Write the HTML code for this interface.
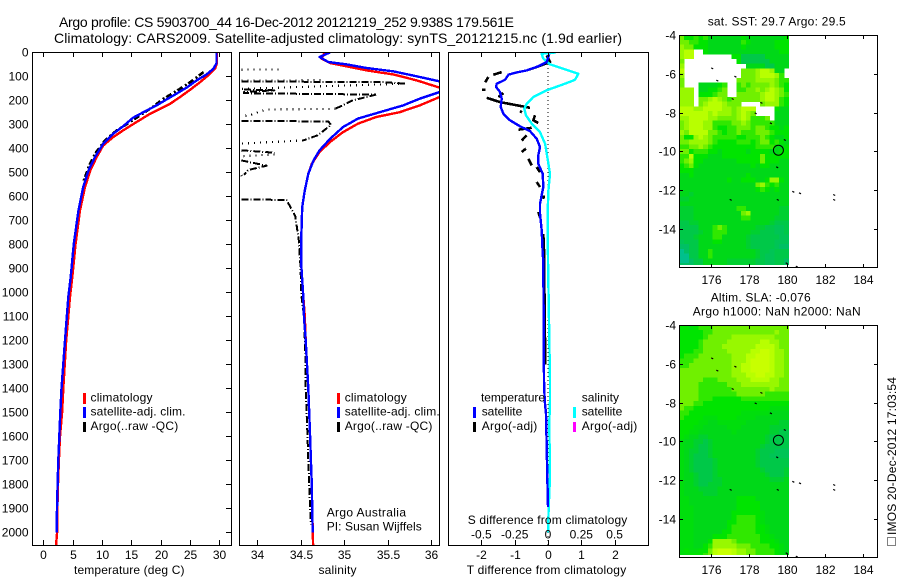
<!DOCTYPE html>
<html>
<head>
<meta charset="utf-8">
<title>Argo profile</title>
<style>
html,body{margin:0;padding:0;background:#fff;}
svg{display:block;}
text{font-family:"Liberation Sans",sans-serif;font-size:12px;fill:#000;}
.t{font-size:14px;}
</style>
</head>
<body>
<svg id="chart" xmlns="http://www.w3.org/2000/svg" width="900" height="580" viewBox="0 0 900 580">
<defs>
<clipPath id="c1"><rect x="33" y="53" width="198" height="492"/></clipPath>
<clipPath id="c2"><rect x="240" y="53" width="199" height="492"/></clipPath>
<clipPath id="c3"><rect x="449" y="53" width="199" height="492"/></clipPath>
<clipPath id="m1"><rect x="679.5" y="35" width="110" height="230"/></clipPath>
<clipPath id="m2"><rect x="679.5" y="325" width="110" height="230"/></clipPath>
</defs>
<rect width="900" height="580" fill="#fff"/>
<g id="layer"></g>
<text class="t" x="59" y="27" textLength="455" lengthAdjust="spacing">Argo profile: CS 5903700_44 16-Dec-2012 20121219_252 9.938S 179.561E</text>
<text class="t" x="54" y="43" textLength="568" lengthAdjust="spacing">Climatology: CARS2009. Satellite-adjusted climatology: synTS_20121215.nc (1.9d earlier)</text>

<text x="74" y="574" textLength="110.5" lengthAdjust="spacing">temperature (deg C)</text>
<text x="318.5" y="574" textLength="38" lengthAdjust="spacing">salinity</text>
<text x="466.7" y="574" textLength="159.5" lengthAdjust="spacing">T difference from climatology</text>
<text x="467.7" y="524" textLength="159.6" lengthAdjust="spacing">S difference from climatology</text>

<g>
<rect x="83" y="393" width="3" height="11" fill="#f00"/>
<text x="90.5" y="401.7" textLength="62" lengthAdjust="spacing">climatology</text>
<rect x="83" y="407" width="3" height="11" fill="#00f"/>
<text x="90.5" y="415.7" textLength="95" lengthAdjust="spacing">satellite-adj. clim.</text>
<rect x="83" y="422" width="3" height="10" fill="#000"/>
<text x="90.5" y="430" textLength="87.7" lengthAdjust="spacing">Argo(..raw -QC)</text>
</g>

<g>
<rect x="337" y="393" width="3" height="11" fill="#f00"/>
<text x="344.7" y="401.7" textLength="62" lengthAdjust="spacing">climatology</text>
<rect x="337" y="407" width="3" height="11" fill="#00f"/>
<text x="344.7" y="415.7" textLength="95" lengthAdjust="spacing">satellite-adj. clim.</text>
<rect x="337" y="422" width="3" height="10" fill="#000"/>
<text x="344.7" y="430" textLength="87.7" lengthAdjust="spacing">Argo(..raw -QC)</text>
</g>
<text x="326.7" y="516.7" textLength="79.3" lengthAdjust="spacing">Argo Australia</text>
<text x="326.7" y="530.7" textLength="95" lengthAdjust="spacing">PI: Susan Wijffels</text>

<g>
<text x="481" y="401.7" textLength="64" lengthAdjust="spacing">temperature</text>
<text x="581.7" y="401.7" textLength="37.3" lengthAdjust="spacing">salinity</text>
<rect x="473" y="407" width="3" height="11" fill="#00f"/>
<text x="481.7" y="415.7" textLength="40.6" lengthAdjust="spacing">satellite</text>
<rect x="473" y="422" width="3" height="10" fill="#000"/>
<text x="481.7" y="430" textLength="55.6" lengthAdjust="spacing">Argo(-adj)</text>
<rect x="573" y="407" width="3" height="11" fill="#0ff"/>
<text x="581.7" y="415.7" textLength="40.6" lengthAdjust="spacing">satellite</text>
<rect x="573" y="422" width="3" height="10" fill="#f0f"/>
<text x="581.7" y="430" textLength="55.6" lengthAdjust="spacing">Argo(-adj)</text>
</g>

<text x="707.7" y="25.7" textLength="138" lengthAdjust="spacing">sat. SST: 29.7 Argo: 29.5</text>
<text x="710.7" y="301.7" textLength="100" lengthAdjust="spacing">Altim. SLA: -0.076</text>
<text x="692.7" y="315.7" textLength="168" lengthAdjust="spacing">Argo h1000: NaN h2000: NaN</text>

<rect x="887.5" y="537.5" width="8" height="8" fill="none" stroke="#000" stroke-width="1" stroke-dasharray="1 1"/>
<text transform="translate(896,535) rotate(-90)" x="0" y="0" textLength="158" lengthAdjust="spacing">IMOS 20-Dec-2012 17:03:54</text>
</svg>

<script>
// ---------- temperature panel data ----------
const climTempDepth = [0,6,47,68,96,124,156,186,214,235,256,290,325,353,388,436,492,561,658,797,936,1019,1200,1400,1500,1600,1700,1800,1900,2000,2054];
const climTemp = [29.55,29.55,29.55,29.26,28.1,26.7,25,23.3,21.6,19.9,18.2,15.9,13.6,11.9,10.2,9.1,8,7.1,6.25,5.5,4.94,4.55,3.9,3.4,3.2,2.85,2.65,2.5,2.4,2.35,2.16];
const satTempDepth = [0,45,68,92,117,147,172,196,221,242,272,308,339,381,436,492,561,658,797,936,1019,1200,1400,1500,1600,1700,1800,1900,2000];
const satTemp = [29.5,29.5,29,27.8,26.1,24.4,22.7,21,19.3,17.6,15.3,13.6,11.9,10.2,8.8,7.7,6.8,6,5.2,4.66,4.26,3.7,3.1,2.9,2.73,2.56,2.44,2.33,2.27];
const argoTempDepth = [82,124,156,193,225,262,290,325,367,422,471,540];
const argoTemp = [27.3,25,23,20.5,18.75,16.5,14.8,12.5,10.5,8.8,7.84,6.8];

// ---------- salinity panel data ----------
const climSalDepth = [0,26,44,58,75,92,117,147,167,186,221,249,269,297,332,373,415,464,506,575,644,756,894,1006,1100,1200,1400,1500,1600,1700,1800,1900,2054];
const climSal = [34.78,34.74,34.84,35.03,35.26,35.57,35.84,36.1,36.25,36.1,35.87,35.64,35.37,35.16,34.99,34.84,34.72,34.63,34.59,34.55,34.52,34.51,34.51,34.53,34.55,34.56,34.59,34.6,34.61,34.62,34.63,34.635,34.645];
const satSalDepth = [0,19,40,50,65,79,100,121,143,165,193,221,249,276,311,360,408,450,506,575,644,756,894,1006,1100,1200,1400,1500,1600,1700,1800,1900,2000];
const satSal = [34.84,34.72,34.82,35.03,35.26,35.57,35.84,36.1,36.25,36.1,35.87,35.68,35.41,35.16,34.99,34.84,34.72,34.65,34.59,34.55,34.52,34.51,34.51,34.53,34.54,34.56,34.59,34.6,34.61,34.62,34.63,34.635,34.64];
// Argo salinity broken into runs: [salinity, depth] pairs
const argoSalDashedRuns = [
  [[33.82,121],[35.45,124],[35.7,130]],
  [[33.85,155],[34.2,158],[33.85,165],[33.85,170],[35.37,176]],
  [[35.37,176],[35.1,200],[34.9,235]],
  [[33.82,285],[34.82,288],[34.85,302],[34.7,345],[34.53,367]],
  [[33.82,408],[34.2,418]],
  [[33.82,450],[34.11,472],[33.9,490],[33.85,510]],
  [[33.82,612],[34.34,615],[34.44,683],[34.48,783],[34.5,894],[34.51,1014],[34.54,1100],[34.56,1300],[34.56,1400],[34.57,1500],[34.58,1600],[34.59,1700],[34.6,1800],[34.61,1900],[34.62,1967]]
];
const argoSalDottedRuns = [
  [[33.82,72],[34.3,71]],
  [[33.82,118],[34.78,116]],
  [[35.7,130],[33.82,152]],
  [[34.9,235],[34.1,238],[33.92,262],[33.85,265]],
  [[34.53,367],[33.82,380]],
  [[34.2,425],[33.82,433]],
  [[33.82,512],[33.85,530]]
];

// ---------- difference panel data ----------
const satDiffDepth = [8,19,40,58,75,85,93,114,131,144,165,193,228,256,283,308,328,360,394,429,464,506,561,631,672,742,839,867,1367,1450,1506,1644,1769,1894];
const satTDiff = [0.04,0.01,-0.04,-0.29,-0.64,-0.99,-1.19,-1.29,-1.54,-1.56,-1.44,-1.39,-1.42,-1.34,-1.14,-0.84,-0.54,-0.34,-0.24,-0.29,-0.29,-0.16,-0.14,-0.24,-0.24,-0.19,-0.16,-0.14,-0.12,-0.1,-0.06,-0.04,-0.02,0];
// Argo T difference, broken into runs: [difference, depth] pairs
const argoTDiffRuns = [
  [[-0.04,12],[0.06,40],[-0.34,61],[-0.64,75]],
  [[-1.39,82],[-1.64,93]],
  [[-1.79,103],[-1.89,124]],
  [[-1.98,156],[-1.88,156]],
  [[-1.34,169],[-1.49,186]],
  [[-1.84,189],[-1.44,207],[-0.54,231]],
  [[-0.84,244],[-0.78,250]],
  [[-0.39,262],[-0.44,283],[-0.29,294]],
  [[-0.89,322],[-0.49,314]],
  [[-0.64,346],[-0.79,367]],
  [[-0.66,401],[-0.79,415]],
  [[-0.59,443],[-0.49,471]],
  [[-0.34,478],[-0.24,499]],
  [[-0.34,540],[-0.24,561]],
  [[-0.14,596],[-0.12,610]],
  [[-0.29,665],[-0.24,686]],
  [[-0.14,756],[-0.12,825],[-0.1,1100],[-0.08,1300]]
];
const satSDiffDepth = [0,6,26,50,68,89,114,128,158,186,214,235,262,297,332,381,436,506,575,672,867,1367,1450,1547,1769,1894,2000];
const satSDiff = [0.06,-0.048,-0.035,0.015,0.115,0.228,0.203,0.14,-0.01,-0.11,-0.16,-0.178,-0.165,-0.122,-0.06,-0.022,-0.005,0.015,0.003,-0.003,0,0.015,0.015,0.01,0.015,0.005,0];

// ---------- tick data ----------
const depthTicks = [0,100,200,300,400,500,600,700,800,900,1000,1100,1200,1300,1400,1500,1600,1700,1800,1900,2000];
const tempTicks = [0,5,10,15,20,25,30];
const salTicks = [34,34.5,35,35.5,36];
const tDiffTicks = [-2,-1,0,1,2];
const sDiffTicks = [-0.5,-0.25,0,0.25,0.5];
const lonTicks = [176,178,180,182,184];
const latTicks = [-4,-6,-8,-10,-12,-14];

// ---------- map data (relative colour level 0..9, _ = missing) ----------
const _ = null;
const sstLevels = [
[6,4,4,5,4,5,3,3,3,3,3,3,3,4,3,3,3,3,3,3,3,3,4],
[6,6,5,5,4,4,3,3,3,3,3,3,3,5,4,3,3,3,3,3,4,4,4],
[7,6,6,4,4,4,3,3,3,3,3,3,3,4,3,3,3,3,3,3,4,4,4],
[7,8,8,_,_,4,3,3,3,3,3,3,3,3,3,3,3,3,3,3,3,4,4],
[7,8,8,_,_,_,_,_,_,_,_,4,4,2,2,2,2,2,3,3,3,3,3],
[6,_,_,_,_,_,_,_,_,_,_,_,4,2,2,2,2,2,2,3,3,3,3],
[7,_,_,_,_,_,_,_,_,_,_,_,_,_,3,3,3,3,2,2,3,3,3],
[8,_,_,_,_,_,_,_,_,_,_,_,_,6,6,6,7,8,8,7,3,3,_],
[7,_,_,_,_,_,_,_,_,_,_,_,_,6,6,6,7,8,8,8,7,5,_],
[6,_,_,_,_,_,_,_,_,_,_,_,6,6,6,6,7,7,7,7,6,5,5],
[6,_,_,_,3,3,3,3,4,5,_,_,5,6,5,6,6,6,6,7,6,5,4],
[7,7,7,_,3,3,4,4,5,6,_,_,5,5,6,6,7,6,7,8,7,6,4],
[7,7,7,_,4,4,4,5,6,6,_,_,6,6,6,6,6,7,8,8,7,6,5],
[7,7,7,_,6,6,7,8,7,6,5,6,6,6,6,6,6,7,8,8,7,5,4],
[7,7,7,_,6,7,8,8,8,7,6,6,6,_,_,_,_,6,7,7,7,5,4],
[8,8,8,7,7,8,8,8,8,7,7,6,7,8,8,8,_,_,_,_,4,3,3],
[8,8,8,8,8,8,7,8,7,7,7,6,7,8,7,6,_,_,_,_,3,3,3],
[7,7,8,8,8,8,7,7,6,6,6,6,7,8,7,5,5,5,6,_,3,3,3],
[6,7,8,8,8,7,7,5,5,5,5,6,6,7,6,5,5,5,5,5,3,3,3],
[6,7,8,8,8,7,7,5,4,4,5,5,6,6,6,5,6,6,5,4,4,3,4],
[7,6,8,8,8,8,6,6,5,4,5,5,6,5,5,5,6,6,6,5,4,4,4],
[6,4,4,7,8,7,6,5,5,5,5,5,4,4,5,5,5,6,5,4,3,3,4],
[6,6,7,7,7,7,6,5,4,4,4,4,5,5,5,4,5,6,6,4,5,4,3],
[5,5,6,6,7,6,5,4,4,4,4,4,4,4,4,4,5,5,5,5,3,3,4],
[6,6,4,5,5,5,4,4,3,4,4,4,4,4,3,4,4,4,4,3,3,4,4],
[5,5,8,4,4,4,3,3,3,4,4,4,4,4,4,4,4,6,4,4,4,4,4],
[5,6,7,4,4,3,3,3,3,3,3,3,4,4,4,4,4,6,4,4,4,3,3],
[4,5,6,4,3,3,3,3,3,3,3,3,3,3,3,4,3,4,4,3,3,3,3],
[4,4,4,3,3,3,3,3,3,3,3,3,3,3,3,3,3,3,3,3,3,3,3],
[3,3,4,3,3,3,3,3,3,3,3,3,3,3,4,3,3,3,3,3,3,3,3],
[3,3,3,3,3,3,3,3,3,3,4,3,3,4,4,4,3,3,4,7,7,4,3],
[3,3,3,3,3,3,3,3,3,3,3,3,3,3,3,3,6,7,5,4,5,3,3],
[3,3,3,3,3,3,3,3,3,3,3,3,3,3,3,3,4,5,4,3,4,3,3],
[3,3,2.5,3,3,3,3,3,3,3,3,3,3,3,3,3,3,3,3,3,3,3,3],
[2.5,2.5,3,3,3,3,3,3,3,3,3,3,3,3,3,3,3,3,3,3,3,3,3],
[3,3,3,3,3,3,3,3,3,3,3,3,3,3,3,3,3,3,3,3,3,3,3],
[2.5,2.5,2.5,3,3,3,3,3,3,3,3,3,5,5,3,3,3,3,3,3,3,2.5,2.5],
[2.5,2.5,2.5,3,3,3,3,3,3,3,3,3,3,6,7,3,3,3,3,3,3,2.5,2.5],
[2.5,2.5,2.5,3,3,3,3,3,3,3,3,3,3,5,5,3,3,3,3,3,2.5,2.5,2.5],
[2,2,2.5,2.5,3,3,3,3,3,3,3,3,3,3,3,3,3,3,3,2.5,2,2,2],
[2,2,2,2,3,3,3,5,6,5,3,3,3,3,3,3,2.5,2.5,2,2,1.5,1.5,2],
[2,2,2,2,2.5,3,3,5,5,5,3,3,3,3,3,2.5,2.5,2,2,2,1.5,1.5,2],
[2,2,2,2.5,3,3,3,5,5,3,3,3,3,3,2.5,2,2,2,2,2,2,1.5,1.5],
[1.5,2,2,2,3,3,3,4,4,3,3,3,3,3,2.5,2,2,2,2,2,1.5,1.5,1.5],
[1,1,2,2,3,3,3,3,3,3,3,3,3,3,2.5,2,2,2,2,2,1.5,1,1],
[0,1,2,2,3,3,5,3,3,3,3,3,3,3,3,3,2.5,2,2,1.5,2,2,2],
[0,0,2,2,3,3,5,3,3,3,3,3,3,3,3,3,2.5,2,1.5,1.5,2,2,2],
[0,0,1,2,2,3,3,3,3,3,2.5,2.5,2.5,2.5,2.5,2.5,2,2,1.5,1.5,2,2,1],
[1,1,1,2,2,3,3,3,3,3,2.5,2.5,2.5,2.5,2.5,2.5,2,2,1.5,1.5,2,2,1]
];
const slaLevels = [
[4,4,3.5,4,5,5,5,6,6,6,6,6,6,6,6,6,6,6,6,6,6,6,6],
[4,4,4,4,4,5,5,6,6,6,6,6,6,6,6,6,6,6,6,6,7,6,6],
[4,4,4,4,4,5,6,6,6,6,6,7,7,7,7,7,7,7,7,7,6,6,6],
[4,4,4,4,5,6,6,6,6,6,7,7,7,7,7,7,7,8,8,7,7,6,6],
[4,4,4,4,5,6,6,6,6,7,7,7,7,7,7,7,8,8,8,8,7,6,6],
[4,4,4,5,5,6,6,6,6,6,7,7,7,7,7,8,8,9,9,8,7,7,6],
[4,5,5,5,6,6,6,6,6,6,6,7,7,7,8,8,9,9,9,8,7,7,6],
[5,5,5,6,6,6,6,6,6,6,6,7,7,7,8,9,9,9,9,8,7,7,6],
[5,5,6,6,6,6,6,6,6,6,6,7,7,8,8,9,9,9,9,8,7,7,6],
[6,6,6,6,6,6,6,6,6,6,6,7,7,8,8,9,9,9,9,8,7,7,6],
[6,6,6,6,6,6,6,6,6,6,6,7,7,7,8,8,9,9,8,8,7,7,6],
[6,6,6,6,6,5,5,5,6,6,6,6,7,7,7,8,8,8,8,7,7,6,6],
[6,6,6,6,5,5,5,5,5,5,6,6,6,7,7,7,7,7,7,7,7,6,6],
[6,6,6,6,5,5,5,5,5,5,5,6,6,6,6,6,6,6,6,7,6,6,6],
[6,6,6,6,5,5,5,5,5,5,5,5,6,6,6,6,6,6,5,5,5,5,5],
[6,6,6,6,5,5,5,4,4,4,4,4,4,5,5,5,5,5,5,5,5,5,5],
[6,6,6,5,5,4,4,4,4,4,4,4,4,4,4,4,4,4,4,4,4,4,4],
[6,5,5,4,4,4,4,4,4,4,4,4,4,4,4,4,4,4,4,3.5,3.5,3.5,3.5],
[5,5,4,4,4,4,4,4,4,4,4,4,4,3.5,3.5,3.5,3.5,3.5,3.5,3,3,3,3],
[5,4,4,4,4,3.5,3.5,3.5,4,4,4,4,3.5,3.5,3.5,3.5,3,3,3,3,3,3,3],
[4,4,4,4,3.5,3.5,3,3,3.5,3.5,3.5,3.5,3.5,3.5,3,3,3,3,3,3,3,2.5,2.5],
[4,4,4,3.5,3.5,3,3,3,3,3,3.5,3.5,3.5,3,3,3,3,3,3,2.5,2.5,2.5,2.5],
[4,4,3.5,3.5,3,3,3,3,3,3,3,3.5,3,3,3,3,3,3,3,2.5,2.5,2,2],
[4,3.5,3,3,2.5,2.5,3,3,3,3,3,3,3,3,3,3,3,3,2.5,2,2,2,2],
[3.5,3,3,2.5,2.5,2,2.5,3,3,3,3,3,3,3,3,3,3,3,2.5,2,2,2,2],
[3.5,3,3,2.5,2,2,2.5,3,3,3,3,3,3,3,3,3,3,2.5,2,2,2,2,2],
[3.5,3,2.5,2.5,2,2,2.5,3,3,3,3,3,3,3,3,3,2.5,2,2,2,1.5,1.5,1.5],
[3.5,3,2.5,2,2,2,2.5,3,3,3,3,3,3,3,3,3,2.5,2,2,1.5,1.5,1.5,1.5],
[3.5,3,2.5,2,2,2,2,2.5,3,3,3,3,3,3,3,3,2.5,2,2,2,2,2,2],
[3.5,3,2.5,2,2,2,2,2.5,3,3,3,3,3,3,3,3,2.5,2,2,2,2,2,2],
[3.5,3,2.5,2,2,2,2,2.5,3,3,3,3,3,3,3,3,3,2.5,2,2,2,2,2.5],
[3.5,3,3,2.5,2,2,2,2.5,3,3,3,3,3,3,3,3,3,3,2.5,2,2,2,2.5],
[3.5,3,3,2.5,2,2,2,2.5,2.5,3,3,3,3,3,3,3,3,3,3,2.5,2.5,2.5,3],
[3.5,3,3,2.5,2,2,2.5,2.5,2.5,3,3,3,3,3,3,3,3,3,3,3,3,3,3],
[3.5,3,3,3,2.5,2.5,2.5,2.5,3,3,3,3,3,3,3,3,3,3,3,3,3,3,3],
[3.5,3,3,3,3,2.5,2.5,2.5,3,3,3,3,3,3,3,3,3,3,3,3,3,3,3],
[3.5,3.5,3,3,3,3,3,3,3,3,3,3,4,4,4,4,3,3,3,3,3,3,3],
[3.5,3.5,3,3,3,3,3,3,3,3,3,3,4,4,4,4,4,3,3,3,3,3,3],
[3.5,3.5,3.5,3,3,3,3,3,3,3,3,3,4,4,4,4,4,3,3,3,3,3,3],
[3.5,3.5,3.5,3,3,3,3,3,3,3,3,4,4,4,4,4,4,3.5,3,3,3,3,3],
[3.5,3.5,3.5,3,3,3,3,3,3,3,3,4,5,5,5,5,4,3.5,3,3,3,3,3],
[3.5,3.5,3.5,3,3,3,3,3,3,3,4,4,5,5,5,5,4,3.5,3,3,3,3,3],
[3.5,3.5,3.5,3,3,3,3,3,3,3,4,5,5,5,5,5,4,4,3.5,3,3,3,3],
[3.5,3.5,3.5,3,3,3,3,3,3,4,4,5,5,5,5,5,4,4,3.5,3,3,3,3],
[3.5,3.5,3.5,3,3,3,3,4,4,4,5,5,5,5,5,5,5,4,4,3.5,3,3,3],
[3.5,3.5,3.5,3,3,3,4,7,7,7,7,6,5,5,5,5,5,4,4,4,3.5,3,3],
[3.5,3.5,3.5,3,3,4,5,7,7,7,7,7,6,6,6,5,5,5,5,4,4,3.5,3],
[3.5,4,3.5,3.5,4,4,6,8,9,9,9,8,7,7,6,6,5,5,5,5,4,3.5,3],
[3.5,3.5,4,4,4,5,6,8,9,9,9,8,7,7,6,6,5,5,5,5,4,3.5,3]
];
const coastLon = [176.08,176.35,177.3,177.16,178.67,178.37,179.17,179.9,179.5,177.05,179.53,180.35,180.7,182.5,182.5,180,180.53];
const coastLat = [-5.72,-6.35,-6.15,-7.3,-7.5,-8.04,-8.55,-9.41,-10.82,-12.5,-12.5,-12.08,-12.16,-12.25,-12.5,-15.77,-15.94];
const profileLon = [179.561];
const profileLat = [-9.938];

// ---------- axis functions ----------
const yDepth = d => 52.4 + d * 0.24;
const xTemp = t => 43.3 + t * 5.87;
const xSal = s => 257 + (s - 34) * 87;
const xTDiff = t => 548 + t * 33.3;
const xSDiff = s => 548 + s * 133.2;
const xLon = lon => 710.7 + (lon - 176) * 19;
const yLat = (lat, top) => top + (-4 - lat) * 19.4;

const NS = 'http://www.w3.org/2000/svg';
const layer = document.getElementById('layer');

function mk(tag, parent, name) {
  const el = document.createElementNS(NS, tag);
  
  
  parent.appendChild(el);
  return el;
}
function group(name, clip) {
  const g = mk('g', layer, name);
  if (clip) g.setAttribute('clip-path', 'url(#' + clip + ')');
  return g;
}
function polyline(parent, name, pts, color, width, dash) {
  const p = mk('polyline', parent, name);
  p.setAttribute('points', pts.map(a => a[0].toFixed(1) + ',' + a[1].toFixed(1)).join(' '));
  p.setAttribute('fill', 'none');
  p.setAttribute('stroke', color);
  p.setAttribute('stroke-width', width);
  p.setAttribute('stroke-linejoin', 'round');
  p.setAttribute('shape-rendering', 'crispEdges');
  if (dash) p.setAttribute('stroke-dasharray', dash);
  return p;
}
function label(parent, name, str, x, y, anchor) {
  const t = mk('text', parent, name);
  t.setAttribute('x', x);
  t.setAttribute('y', y);
  t.setAttribute('text-anchor', anchor);
  t.textContent = str;
  return t;
}
function seg(parent, name, x1, y1, x2, y2) {
  const l = mk('line', parent, name);
  l.setAttribute('x1', x1);
  l.setAttribute('y1', y1);
  l.setAttribute('x2', x2);
  l.setAttribute('y2', y2);
  l.setAttribute('stroke', '#000');
  l.setAttribute('stroke-width', 1);
  l.setAttribute('shape-rendering', 'crispEdges');
}
function frame(name, x, y, w, h) {
  const r = mk('rect', layer, name);
  r.setAttribute('x', x);
  r.setAttribute('y', y);
  r.setAttribute('width', w);
  r.setAttribute('height', h);
  r.setAttribute('fill', 'none');
  r.setAttribute('stroke', '#000');
  r.setAttribute('stroke-width', 1);
  r.setAttribute('shape-rendering', 'crispEdges');
}
function zip(xs, ys, fx) {
  return xs.map((v, i) => [fx(v), yDepth(ys[i])]);
}
function levelColor(v) {
  const ramp = [[0,192,140],[0,191,100],[0,200,72],[0,216,24],[0,228,0],[48,232,0],[112,240,0],[152,248,0],[184,255,0],[200,255,0]];
  const t = Math.max(0, Math.min(9, v));
  const i = Math.min(8, Math.floor(t));
  const f = t - i;
  const c = ramp[i].map((a, k) => Math.round(a + (ramp[i + 1][k] - a) * f));
  return 'rgb(' + c.join(',') + ')';
}

// ---------- temperature panel ----------
const g1 = group('temperature-panel-series', 'c1');
polyline(g1, 'argo-temperature-line', zip(argoTemp, argoTempDepth, xTemp), '#000', 2.6, '6 2 2 3');
polyline(g1, 'climatology-temperature-line', zip(climTemp, climTempDepth, xTemp), '#f00', 2.4);
polyline(g1, 'satellite-temperature-line', zip(satTemp, satTempDepth, xTemp), '#00f', 2.4);
frame('temperature-panel-frame', 32.5, 52.5, 199, 493);
const g1a = group('temperature-panel-axes');
depthTicks.forEach(d => {
  const y = Math.round(yDepth(d)) + 0.5;
  seg(g1a, 'depth-tick', 226, y, 231, y);
  label(g1a, 'depth-tick-label', String(d), 28.5, y + 4, 'end');
});
tempTicks.forEach(t => {
  const x = Math.round(xTemp(t)) + 0.5;
  seg(g1a, 'temperature-tick-top', x, 53, x, 57);
  seg(g1a, 'temperature-tick-bottom', x, 540, x, 545);
  label(g1a, 'temperature-tick-label', String(t), x, 559, 'middle');
});

// ---------- salinity panel ----------
const g2 = group('salinity-panel-series', 'c2');
argoSalDottedRuns.forEach(run => {
  polyline(g2, 'argo-salinity-dotted-run', run.map(a => [xSal(a[0]), yDepth(a[1])]), '#000', 2.2, '1 5');
});
argoSalDashedRuns.forEach(run => {
  polyline(g2, 'argo-salinity-dashed-run', run.map(a => [xSal(a[0]), yDepth(a[1])]), '#000', 2, '7 2 1 2');
});
polyline(g2, 'climatology-salinity-line', zip(climSal, climSalDepth, xSal), '#f00', 2.4);
polyline(g2, 'satellite-salinity-line', zip(satSal, satSalDepth, xSal), '#00f', 2.4);
frame('salinity-panel-frame', 239.5, 52.5, 200, 493);
const g2a = group('salinity-panel-axes');
salTicks.forEach(s => {
  const x = Math.round(xSal(s)) + 0.5;
  seg(g2a, 'salinity-tick-top', x, 53, x, 57);
  seg(g2a, 'salinity-tick-bottom', x, 540, x, 545);
  label(g2a, 'salinity-tick-label', String(s), x, 559, 'middle');
});

// ---------- difference panel ----------
const g3 = group('difference-panel-series', 'c3');
polyline(g3, 'zero-difference-line', [[xTDiff(0), 52], [xTDiff(0), 545]], '#000', 1, '1 3');
argoTDiffRuns.forEach(run => {
  polyline(g3, 'argo-t-difference-run', run.map(a => [xTDiff(a[0]), yDepth(a[1])]), '#000', 2.6);
});
polyline(g3, 'satellite-s-difference-line', zip(satSDiff, satSDiffDepth, xSDiff), '#0ff', 2.4);
polyline(g3, 'satellite-t-difference-line', zip(satTDiff, satDiffDepth, xTDiff), '#00f', 2.4);
frame('difference-panel-frame', 448.5, 52.5, 200, 493);
const g3a = group('difference-panel-axes');
tDiffTicks.forEach(t => {
  const x = Math.round(xTDiff(t)) + 0.5;
  seg(g3a, 't-difference-tick-top', x, 53, x, 57);
  seg(g3a, 't-difference-tick-bottom', x, 540, x, 545);
  label(g3a, 't-difference-tick-label', String(t), x, 559, 'middle');
});
sDiffTicks.forEach(s => {
  label(g3a, 's-difference-tick-label', String(s), xSDiff(s), 538.7, 'middle');
});

// ---------- maps ----------
const gridLonStart = 174.35;
const gridLonStep = 0.25;
const gridLatStep = 0.245;
function drawMap(prefix, levels, top, clipId, labelY) {
  const cells = group(prefix + '-map-cells', clipId);
  levels.forEach((row, r) => {
    row.forEach((v, c) => {
      if (v === null) return;
      const x0 = xLon(gridLonStart + c * gridLonStep);
      const x1 = xLon(gridLonStart + (c + 1) * gridLonStep);
      const y0 = yLat(-4 - r * gridLatStep, top);
      const y1 = yLat(-4 - (r + 1) * gridLatStep, top);
      const cell = mk('rect', cells, prefix + '-cell');
      cell.setAttribute('x', x0.toFixed(2));
      cell.setAttribute('y', y0.toFixed(2));
      cell.setAttribute('width', (x1 - x0 + 0.4).toFixed(2));
      cell.setAttribute('height', (y1 - y0 + 0.4).toFixed(2));
      cell.setAttribute('fill', levelColor(v));
      cell.setAttribute('shape-rendering', 'crispEdges');
    });
  });
  const coast = group(prefix + '-coastline');
  coastLon.forEach((lon, i) => {
    const l = mk('line', coast, 'coast-mark');
    const x = xLon(lon);
    const y = yLat(coastLat[i], top);
    l.setAttribute('x1', (x - 1).toFixed(1));
    l.setAttribute('y1', (y - 0.5).toFixed(1));
    l.setAttribute('x2', (x + 1).toFixed(1));
    l.setAttribute('y2', (y + 0.5).toFixed(1));
    l.setAttribute('stroke', '#000');
    l.setAttribute('stroke-width', 1.2);
  });
  frame(prefix + '-map-frame', 679.5, top + 0.5, 198, 232);
  const ax = group(prefix + '-map-axes');
  lonTicks.forEach(lon => {
    const x = Math.round(xLon(lon)) + 0.5;
    seg(ax, 'longitude-tick-top', x, top + 1, x, top + 4);
    seg(ax, 'longitude-tick-bottom', x, top + 229, x, top + 232);
    label(ax, 'longitude-tick-label', String(lon), x, labelY, 'middle');
  });
  latTicks.forEach(lat => {
    const y = Math.round(yLat(lat, top)) + 0.5;
    seg(ax, 'latitude-tick-left', 680, y, 683, y);
    seg(ax, 'latitude-tick-right', 874, y, 877, y);
    label(ax, 'latitude-tick-label', String(lat), 676, y + 4, 'end');
  });
  profileLon.forEach((lon, i) => {
    const c = mk('circle', ax, 'argo-profile-location-marker');
    c.setAttribute('cx', xLon(lon).toFixed(1));
    c.setAttribute('cy', yLat(profileLat[i], top).toFixed(1));
    c.setAttribute('r', 5);
    c.setAttribute('fill', 'none');
    c.setAttribute('stroke', '#000');
    c.setAttribute('stroke-width', 1);
  });
}
drawMap('sst', sstLevels, 35, 'm1', 284);
drawMap('sla', slaLevels, 325, 'm2', 574);
</script>
</body>
</html>
